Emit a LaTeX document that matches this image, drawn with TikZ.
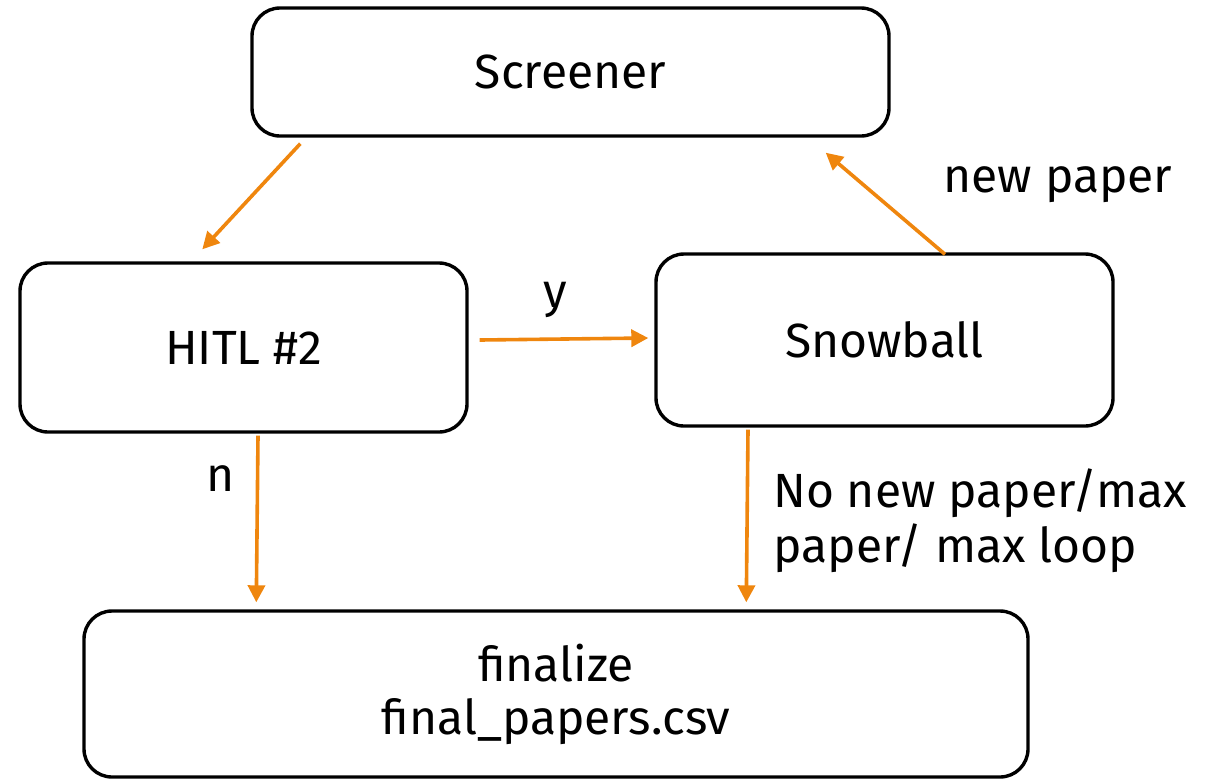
\documentclass[tikz,border=0pt]{standalone}
\usepackage{fontspec}
\setmainfont{Fira Sans}
\usetikzlibrary{arrows.meta,calc}
\definecolor{flow}{RGB}{239,134,14}
\tikzset{
  stage/.style={draw=black, line width=1.7pt, rounded corners=14pt, fill=white,
    align=center, inner sep=0pt, font=\fontsize{24}{26.5}\selectfont},
  flowarrow/.style={draw=flow, line width=1.8pt,
    -{Triangle[length=8.5pt,width=8.5pt]}},
  lbl/.style={font=\fontsize{24}{27.5}\selectfont, inner sep=0pt}
}
\begin{document}
\begin{tikzpicture}[x=0.5pt,y=-0.5pt]
\useasboundingbox (0,0) rectangle (1220,778);

% stages
\node[stage, minimum width=318.5pt, minimum height=64pt] (scr) at (570.5,72) {Screener};
\node[stage, minimum width=223.5pt, minimum height=84.5pt] (hitl) at (243.5,347.5) {HITL \#2};
\node[stage, minimum width=228.5pt, minimum height=86pt] (snow) at (884.5,340) {Snowball};
\node[stage, minimum width=472pt, minimum height=83pt] (fin) at (556,694) {finalize\\final\_papers.csv};

% flow between stages
\draw[flowarrow] ($(scr.south west)+(50,6)$) -- ($(hitl.north west)+(184,-12)$);
\draw[flowarrow] ($(hitl.east)+(11,-7.5)$) -- ($(snow.west)+(-6,-2)$);
\draw[flowarrow] ($(snow.north)+(60.5,2)$) -- ($(scr.south east)+(-65,15)$);
\draw[flowarrow] ($(hitl.south)+(14.5,2)$) -- ($(fin.north west)+(174,-7)$);
\draw[flowarrow] ($(snow.south)+(-136.5,2)$) -- ($(fin.north west)+(664,-7)$);

% edge labels
\node[lbl, anchor=base] (lnew) at (1058,192) {new paper};
\node[lbl, anchor=base] (ly) at (555,307) {y};
\node[lbl, anchor=base] (ln) at (221,491) {n};
\node[lbl, anchor=base west, align=left] (lend) at (773,562) {No new paper/max\\paper/ max loop};
\end{tikzpicture}
\end{document}
